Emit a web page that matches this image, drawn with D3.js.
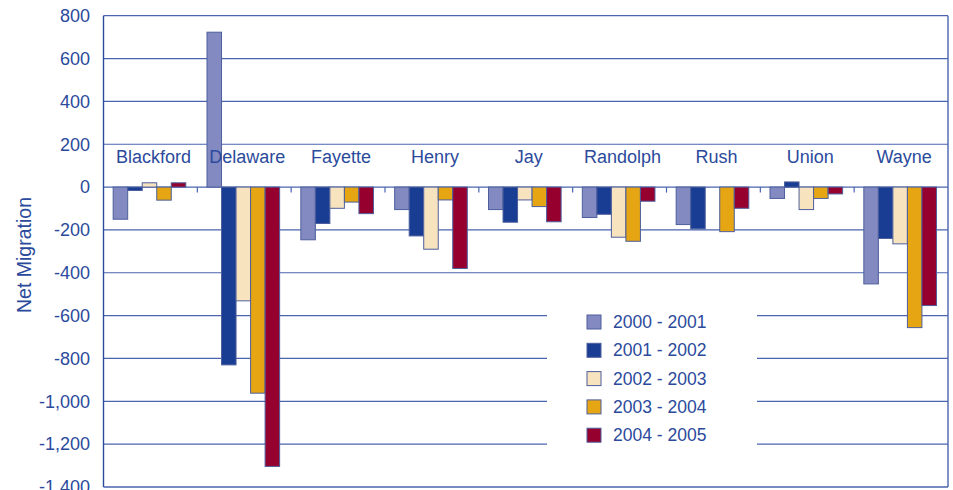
<!DOCTYPE html>
<html><head><meta charset="utf-8">
<script src="https://cdn.jsdelivr.net/npm/d3@7"></script>
<style>body{margin:0;background:#fff;}svg{display:block;font-family:"Liberation Sans",Arial,sans-serif;}</style>
</head><body><svg id="c" width="953" height="490"></svg>
<script>
const counties = ["Blackford","Delaware","Fayette","Henry","Jay","Randolph","Rush","Union","Wayne"];
const seriesNames = ["2000 - 2001","2001 - 2002","2002 - 2003","2003 - 2004","2004 - 2005"];
const s2000 = [-150, 723, -246, -105, -105, -142, -175, -53, -452];
const s2001 = [-16, -830, -170, -228, -164, -127, -195, 24, -240];
const s2002 = [20, -531, -99, -290, -60, -234, 0, -105, -265];
const s2003 = [-61, -962, -70, -60, -91, -253, -208, -53, -656];
const s2004 = [20, -1304, -124, -380, -162, -66, -99, -32, -553];
const colors = ["#8389c1","#1a3d94","#f8e3bf","#e6a613","#96002e"];
const yTicks = [800,600,400,200,0,-200,-400,-600,-800,-1000,-1200,-1400];

const series = [s2000,s2001,s2002,s2003,s2004];
const txt = "#2b4a9c", grid = "#4a64ae";
const L = 103.5, R = 948, T = 15.7, B = 487;
const svg = d3.select("#c");
const x0 = d3.scaleBand().domain(counties).range([L, R]).padding(0);
const bw = x0.bandwidth();
const x1 = d3.scaleBand().domain(d3.range(5)).range([bw*0.103, bw*0.877]).padding(0);
const y = d3.scaleLinear().domain([-1400, 800]).range([B, T]);

// gridlines
svg.append("g").selectAll("line").data(yTicks.filter(v=>v>-1400)).join("line")
  .attr("x1", L).attr("x2", R).attr("y1", d=>y(d)).attr("y2", d=>y(d))
  .attr("stroke", grid).attr("stroke-width", 1.2);

// ticks at zero line between categories
svg.append("g").selectAll("line").data(counties.slice(1)).join("line")
  .attr("x1", d=>x0(d)).attr("x2", d=>x0(d)).attr("y1", y(0)).attr("y2", y(0)+5.5)
  .attr("stroke", grid).attr("stroke-width", 1.2);

// legend background
svg.append("rect").attr("x", 547).attr("y", 292).attr("width", 210).attr("height", 162).attr("fill", "#fff");

// bars
const g = svg.append("g");
counties.forEach((c, i) => {
  series.forEach((s, k) => {
    const v = s[i];
    g.append("rect")
      .attr("x", x0(c) + x1(k)).attr("width", x1.bandwidth())
      .attr("y", y(Math.max(0, v))).attr("height", Math.abs(y(v) - y(0)))
      .attr("fill", colors[k]).attr("stroke", "#4d5f9c").attr("stroke-width", 1);
  });
});

// frame
svg.append("line").attr("x1", L).attr("x2", L).attr("y1", T).attr("y2", B).attr("stroke", "#2b4a9c").attr("stroke-width", 1.4);
svg.append("line").attr("x1", R).attr("x2", R).attr("y1", T).attr("y2", B).attr("stroke", grid).attr("stroke-width", 1.4);
svg.append("line").attr("x1", L).attr("x2", R).attr("y1", B).attr("y2", B).attr("stroke", grid).attr("stroke-width", 1.4);

// y axis
const fmt = d => d3.format(",")(d).replace("\u2212", "-");
svg.append("g").selectAll("text").data(yTicks).join("text")
  .attr("x", 90).attr("y", d=>y(d)).attr("dy", "0.35em").attr("text-anchor", "end")
  .attr("font-size", 18).attr("fill", txt).text(d=>fmt(d));
svg.append("text").attr("transform", `translate(31,255) rotate(-90)`)
  .attr("text-anchor", "middle").attr("font-size", 19.5).attr("fill", txt).text("Net Migration");

// category labels
svg.append("g").selectAll("text").data(counties).join("text")
  .attr("x", d=>x0(d)+bw/2+3).attr("y", 162.5).attr("text-anchor", "middle")
  .attr("font-size", 18).attr("fill", txt).text(d=>d);

// legend
const lg = svg.append("g");
seriesNames.forEach((n, k) => {
  const cy = 322 + k*28.3;
  lg.append("rect").attr("x", 587).attr("y", cy-7).attr("width", 14).attr("height", 14)
    .attr("fill", colors[k]).attr("stroke", "#4d5f9c").attr("stroke-width", 1);
  lg.append("text").attr("x", 613).attr("y", cy).attr("dy", "0.35em")
    .attr("font-size", 17.5).attr("fill", txt).text(n);
});
</script></body></html>
